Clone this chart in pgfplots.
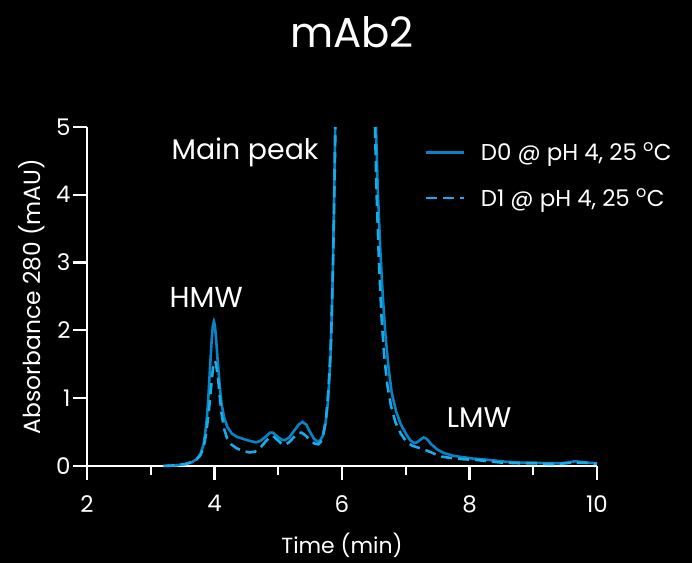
\documentclass[border=0pt]{standalone}
\usepackage{pgfplots}
\pgfplotsset{compat=1.18}
\usepackage{fontspec}
\setmainfont{Poppins}
\definecolor{dzero}{RGB}{8,132,196}
\definecolor{done}{RGB}{22,172,232}
\begin{document}
\begin{tikzpicture}
\fill[black] (0bp,0bp) rectangle (692bp,563bp);
\node[white, font=\fontsize{42}{50}\selectfont] at (352bp,531bp) {mAb2};
\begin{axis}[
  at={(87bp,97bp)}, anchor=south west,
  width=510bp, height=339bp, scale only axis,
  xmin=2, xmax=10, ymin=0, ymax=5,
  axis x line*=bottom, axis y line*=left,
  axis line style={white, line width=2.2bp, -},
  xtick={2,4,6,8,10}, minor xtick={3,5,7,9}, ytick={0,1,2,3,4,5},
  xtick style={draw=white, line width=2.2bp},
  ytick style={draw=white, line width=2.2bp},
  tick align=outside,
  major tick length=14bp, minor tick length=9bp,
  clip=false,
  restrict y to domain=0:5, unbounded coords=jump,
  /pgf/number format/assume math mode=true,
  ticklabel style={white, font=\fontsize{23}{27}\selectfont},
  xticklabel style={yshift=-12bp},
  yticklabel style={xshift=1bp},
  xlabel={Time (min)}, ylabel={Absorbance 280 (mAU)},
  label style={white, font=\fontsize{22}{26}\selectfont},
  xlabel style={at={(axis description cs:0.5,-0.233)}, anchor=center},
  ylabel style={at={(axis description cs:-0.108,0.5)}, anchor=center, rotate=0,
    font=\fontsize{23.5}{27}\selectfont},
  legend style={draw=none, fill=none, text=white,
    font=\fontsize{23}{27}\selectfont,
    at={(rel axis cs:0.655,0.965)}, anchor=north west,
    row sep=22bp, legend cell align=left,
    /tikz/every odd column/.append style={column sep=14bp}},
  legend image code/.code={\draw[#1] (0bp,0bp) -- (38bp,0bp);},
]
% tick stubs on both axis lines
\pgfplotsinvokeforeach{2,4,6,8,10}{
  \draw[white, line width=2.2bp] (axis cs:#1,0) -- ++(0bp,-14bp);}
\pgfplotsinvokeforeach{3,5,7,9}{
  \draw[white, line width=2.2bp] (axis cs:#1,0) -- ++(0bp,-9bp);}
\pgfplotsinvokeforeach{0,1,2,3,4,5}{
  \draw[white, line width=2.2bp] (axis cs:2,#1) -- ++(-14bp,0bp);}
% D0 trace (main peak runs off scale above 5 mAU)
\addplot[dzero, line width=2.6bp] coordinates {
(3.20,0.00) (3.40,0.01) (3.55,0.03) (3.65,0.06) (3.72,0.10) (3.78,0.18)
(3.83,0.32) (3.87,0.60) (3.90,0.95) (3.93,1.45) (3.955,1.85) (3.975,2.08)
(3.99,2.13) (4.005,2.08) (4.025,1.88) (4.05,1.55) (4.08,1.20) (4.11,0.92)
(4.15,0.72) (4.20,0.58) (4.27,0.48) (4.35,0.43) (4.45,0.40) (4.55,0.37)
(4.65,0.35) (4.72,0.37) (4.80,0.43) (4.87,0.49) (4.92,0.49) (4.98,0.44)
(5.05,0.39) (5.10,0.38) (5.17,0.42) (5.25,0.52) (5.32,0.61) (5.38,0.65)
(5.44,0.61) (5.50,0.50) (5.56,0.40) (5.62,0.36) (5.66,0.38) (5.70,0.45)
(5.74,0.62) (5.78,0.95) (5.82,1.60) (5.85,2.60) (5.87,3.60) (5.89,4.80)
(5.893,5.00) (5.91,6.20) (5.95,8.8) (6.00,12) (6.10,18) (6.20,20) (6.30,18)
(6.40,12) (6.46,8.2) (6.50,6.4) (6.53,5.1) (6.533,5.00) (6.56,4.1) (6.60,3.2)
(6.64,2.5) (6.68,1.95) (6.73,1.45) (6.78,1.08) (6.85,0.80) (6.92,0.62)
(7.00,0.48) (7.07,0.38) (7.13,0.34) (7.18,0.35) (7.23,0.39) (7.28,0.42)
(7.33,0.40) (7.40,0.32) (7.50,0.24) (7.60,0.19) (7.75,0.15) (7.90,0.13)
(8.05,0.11) (8.20,0.10) (8.40,0.08) (8.60,0.06) (8.80,0.05) (9.00,0.05)
(9.20,0.04) (9.40,0.04) (9.55,0.05) (9.65,0.07) (9.75,0.06) (9.85,0.05)
(10.00,0.04)
};
\addlegendentry{D0 @ pH 4, 25 \textsuperscript{o}C}
% D1 trace
\addplot[done, line width=2.6bp, dash pattern=on 11bp off 6bp] coordinates {
(3.20,0.00) (3.40,0.01) (3.55,0.03) (3.65,0.06) (3.72,0.10) (3.78,0.16)
(3.83,0.28) (3.87,0.48) (3.91,0.80) (3.95,1.20) (3.98,1.48) (4.00,1.55)
(4.02,1.52) (4.05,1.35) (4.08,1.05) (4.11,0.78) (4.15,0.55) (4.20,0.40)
(4.26,0.32) (4.35,0.26) (4.45,0.22) (4.55,0.20) (4.63,0.21) (4.72,0.27)
(4.80,0.36) (4.87,0.43) (4.92,0.44) (4.98,0.39) (5.05,0.33) (5.10,0.31)
(5.17,0.35) (5.25,0.43) (5.32,0.49) (5.37,0.49) (5.44,0.44) (5.50,0.38)
(5.57,0.33) (5.63,0.32) (5.67,0.36) (5.71,0.48) (5.75,0.70) (5.79,1.15)
(5.83,1.90) (5.86,3.00) (5.88,4.00) (5.897,5.00) (5.90,5.20) (5.92,6.50)
(6.00,12) (6.10,17) (6.20,19) (6.30,17) (6.40,11) (6.47,7) (6.51,5.3)
(6.518,5.00) (6.54,4.1) (6.58,3.0) (6.62,2.2) (6.66,1.65) (6.71,1.20)
(6.77,0.88) (6.84,0.64) (6.92,0.48) (7.00,0.37) (7.10,0.30) (7.20,0.27)
(7.30,0.24) (7.40,0.20) (7.55,0.14) (7.70,0.12) (7.90,0.10) (8.10,0.09)
(8.30,0.07) (8.50,0.05) (8.80,0.04) (9.00,0.04) (9.20,0.03) (9.40,0.03)
(9.60,0.05) (9.75,0.05) (9.90,0.04) (10.00,0.03)
};
\addlegendentry{D1 @ pH 4, 25 \textsuperscript{o}C}
\node[white, font=\fontsize{28.5}{33}\selectfont] at (axis cs:4.48,4.62) {Main peak};
\node[white, font=\fontsize{29}{33}\selectfont] at (axis cs:3.87,2.48) {HMW};
\node[white, font=\fontsize{28.5}{33}\selectfont] at (axis cs:8.15,0.71) {LMW};
\end{axis}
\end{tikzpicture}
\end{document}
